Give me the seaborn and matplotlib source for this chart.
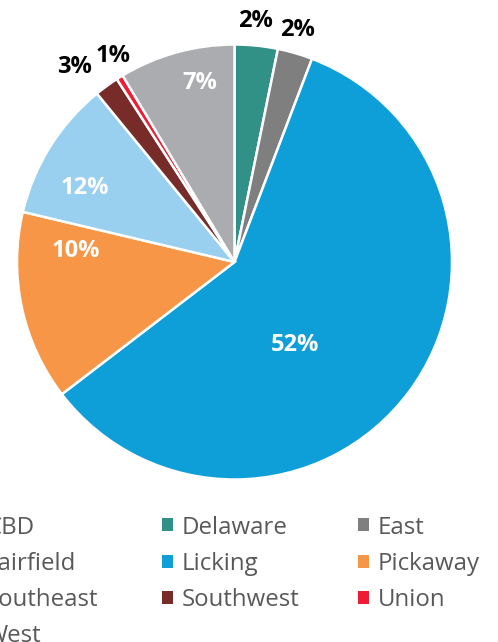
import numpy as np
import matplotlib
matplotlib.use('Agg')
import matplotlib.pyplot as plt
from matplotlib.patches import Patch
import seaborn as sns

sns.set_theme(style='white')
plt.rcParams['font.family'] = ['Open Sans', 'DejaVu Sans']

# Data (share of slice) and the printed labels
regions = ['CBD', 'Delaware', 'East', 'Fairfield', 'Licking',
           'Pickaway', 'Southeast', 'Southwest', 'Union', 'West']
shares = [0.0, 3.2, 2.6, 0.0, 58.8, 14.1, 10.4, 1.8, 0.5, 8.6]
pct_labels = ['', '2%', '2%', '', '52%', '10%', '12%', '3%', '1%', '7%']
colors = sns.color_palette(['#1F3864', '#329187', '#7F7F7F', '#FFC000', '#0E9FD8',
                            '#F79646', '#99D0F0', '#772C2A', '#EE1C34', '#ABACAF'])

# label placement (fraction of radius) and whether it sits outside the pie
label_xy = {'Delaware': (0.097, 1.110), 'East': (0.291, 1.066),
            'Licking': (0.280, -0.383), 'Pickaway': (-0.731, 0.049),
            'Southeast': (-0.689, 0.340), 'Southwest': (-0.736, 0.896),
            'Union': (-0.560, 0.949), 'West': (-0.159, 0.822)}
outside = {'Delaware', 'East', 'Southwest', 'Union'}

fig = plt.figure(figsize=(4.98, 6.42), dpi=100)
ax = fig.add_axes([17 / 498, (642 - 262 - 217.5) / 642, 435 / 498, 435 / 642])

keep = [i for i, v in enumerate(shares) if v > 0]
ax.pie([shares[i] for i in keep], colors=[colors[i] for i in keep],
       startangle=90, counterclock=False, radius=1,
       wedgeprops=dict(edgecolor='white', linewidth=1.8))
ax.set_xlim(-1, 1)
ax.set_ylim(-1, 1)
ax.axis('off')

for i in keep:
    name = regions[i]
    x, y = label_xy[name]
    ax.text(x, y, pct_labels[i], ha='center', va='center', fontsize=17,
            fontweight='bold', color='black' if name in outside else 'white',
            clip_on=False)

# legend laid out row by row in 3 equal-width columns (first one runs off the left edge)
ncol = 3
col_x0, col_w = -33.7, 196   # pixels
for c in range(ncol):
    idx = list(range(c, len(regions), ncol))
    fig.legend([Patch(facecolor=colors[i], edgecolor='none') for i in idx],
               [regions[i] for i in idx], loc='upper left',
               bbox_to_anchor=((col_x0 + c * col_w) / 498, (642 - 515.5) / 642),
               frameon=False, fontsize=17.3, labelcolor='#595959',
               handlelength=0.46, handleheight=0.46, handletextpad=0.36,
               labelspacing=0.51, borderpad=0, borderaxespad=0)

fig.savefig('out.png', dpi=100)
